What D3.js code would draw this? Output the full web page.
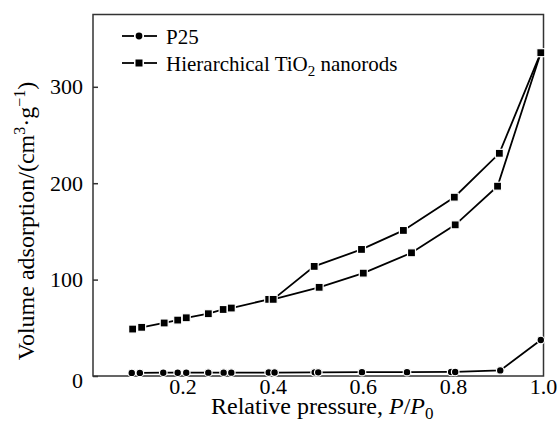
<!DOCTYPE html>
<html>
<head>
<meta charset="utf-8">
<script src="https://cdn.jsdelivr.net/npm/d3@7"></script>
<style>
  body {margin: 0; background: #fff;}
  svg {display: block;}
</style>
</head>
<body>
<div id='graph'></div>
<script>

// hierarchical TiO2 nanorods, adsorption branch
var hierAdsP = [0.088, 0.108, 0.158, 0.188, 0.207, 0.256, 0.289, 0.307, 0.39, 0.40, 0.502, 0.60, 0.707, 0.804, 0.898, 0.994]
var hierAdsV = [48.7, 50.5, 55, 58, 60.4, 64.6, 69, 70.5, 79.5, 79.5, 92, 106.7, 127.8, 156.8, 196.9, 335.4]

// desorption branch
var hierDesP = [0.994, 0.902, 0.802, 0.689, 0.596, 0.491, 0.40]
var hierDesV = [335.4, 231, 185.5, 151, 131.3, 113.7, 79.5]

// P25
var p25P = [0.086, 0.104, 0.156, 0.188, 0.207, 0.256, 0.29, 0.307, 0.39, 0.403, 0.492, 0.50, 0.597, 0.697, 0.795, 0.804, 0.904, 0.994]
var p25V = [3.2, 3.2, 3.4, 3.4, 3.4, 3.5, 3.5, 3.5, 3.6, 3.6, 3.8, 3.8, 4, 4, 4.2, 4.2, 5.8, 37.3]

var xTicks = [0.2, 0.4, 0.6, 0.8, 1.0]
var yTicks = [0, 100, 200, 300]

var width = 557, height = 434
var margin = {left: 93, right: 13.5, top: 14.5, bottom: 58}
var serif = '"Liberation Serif"'

var svg = d3.select('#graph').append('svg')
  .attr('width', width)
  .attr('height', height)
  .style('font-family', serif)

var x = d3.scaleLinear().domain([0, 1]).range([margin.left, width - margin.right])
var y = d3.scaleLinear().domain([0, 375]).range([height - margin.bottom, margin.top])

var zip = (ps, vs) => ps.map((p, i) => ({p, v: vs[i]}))
var ads = zip(hierAdsP, hierAdsV)
var des = zip(hierDesP, hierDesV)
var p25 = zip(p25P, p25V)

var line = d3.line().x(d => x(d.p)).y(d => y(d.v))

// frame
svg.append('rect')
  .attr('x', x(0)).attr('y', y(375))
  .attr('width', x(1) - x(0)).attr('height', y(0) - y(375))
  .attr('fill', 'none').attr('stroke', '#333').attr('stroke-width', 1.5)

// y axis, ticks point inwards
var yAxis = svg.append('g')
  .attr('transform', `translate(${x(0)},0)`)
  .call(d3.axisRight(y).tickValues(yTicks).tickSize(5).tickFormat(''))
yAxis.select('.domain').remove()
yAxis.selectAll('line').attr('stroke', '#333').attr('stroke-width', 1.5)

svg.append('g').selectAll('text')
  .data(yTicks).join('text')
  .attr('x', x(0) - 10)
  .attr('y', d => y(d) + (d == 0 ? 12 : 7.5))
  .attr('text-anchor', 'end')
  .style('font-family', serif)
  .attr('font-size', 22)
  .text(d => d)

svg.append('g').selectAll('text')
  .data(xTicks).join('text')
  .attr('x', d => x(d))
  .attr('y', y(0) + 18)
  .attr('text-anchor', 'middle')
  .style('font-family', serif)
  .attr('font-size', 22)
  .text(d => d3.format('.1f')(d))

// axis titles
var xt = svg.append('text')
  .attr('x', x(0.5) + 4).attr('y', 414)
  .attr('text-anchor', 'middle')
  .style('font-family', serif)
  .attr('font-size', 24)
xt.append('tspan').text('Relative pressure, ')
xt.append('tspan').attr('font-style', 'italic').text('P')
xt.append('tspan').text('/')
xt.append('tspan').attr('font-style', 'italic').text('P')
xt.append('tspan').attr('font-size', 17).attr('dy', 5).text('0')

var yt = svg.append('text')
  .attr('transform', `translate(34,${221}) rotate(-90)`)
  .attr('text-anchor', 'middle')
  .style('font-family', serif)
  .attr('font-size', 24)
yt.append('tspan').text('Volume adsorption/(cm')
yt.append('tspan').attr('font-size', 16).attr('dy', -9).text('3')
yt.append('tspan').attr('dy', 9).text('·g')
yt.append('tspan').attr('font-size', 16).attr('dy', -9).text('−1')
yt.append('tspan').attr('dy', 9).text(')')

// series
function drawSeries(data){
  svg.append('path')
    .attr('d', line(data))
    .attr('fill', 'none').attr('stroke', '#000').attr('stroke-width', 1.8)
}
drawSeries(p25)
drawSeries(ads)
drawSeries(des)

var markStroke = {stroke: '#fff', width: 1.2}

svg.append('g').selectAll('circle')
  .data(p25).join('circle')
  .attr('cx', d => x(d.p)).attr('cy', d => y(d.v))
  .attr('r', 3.8)
  .attr('fill', '#000').attr('stroke', markStroke.stroke).attr('stroke-width', markStroke.width)

var sq = 8
svg.append('g').selectAll('rect')
  .data(ads.concat(des.slice(1, -1))).join('rect')
  .attr('x', d => x(d.p) - sq/2).attr('y', d => y(d.v) - sq/2)
  .attr('width', sq).attr('height', sq)
  .attr('fill', '#000').attr('stroke', markStroke.stroke).attr('stroke-width', markStroke.width)

// legend
var legend = [
  {label: 'P25', shape: 'circle', y: 36},
  {label: 'Hierarchical TiO', sub: '2', rest: ' nanorods', shape: 'square', y: 63}
]

var lg = svg.append('g').selectAll('g')
  .data(legend).join('g')
  .attr('transform', d => `translate(0,${d.y})`)

lg.append('line').attr('x1', 122).attr('x2', 134).attr('stroke', '#000').attr('stroke-width', 1.8)
lg.append('line').attr('x1', 144).attr('x2', 157).attr('stroke', '#000').attr('stroke-width', 1.8)
lg.filter(d => d.shape == 'circle').append('circle').attr('cx', 139).attr('r', 3.4).attr('fill', '#000')
lg.filter(d => d.shape == 'square').append('rect').attr('x', 135.5).attr('y', -3.5).attr('width', 7).attr('height', 7).attr('fill', '#000')

var lt = lg.append('text').attr('x', 166).attr('y', 8).style('font-family', serif).attr('font-size', 21)
lt.append('tspan').text(d => d.label)
lt.filter(d => d.sub).append('tspan').attr('font-size', 15).attr('dy', 5).text(d => d.sub)
lt.filter(d => d.sub).append('tspan').attr('dy', -5).text(d => d.rest)

</script>
</body>
</html>
